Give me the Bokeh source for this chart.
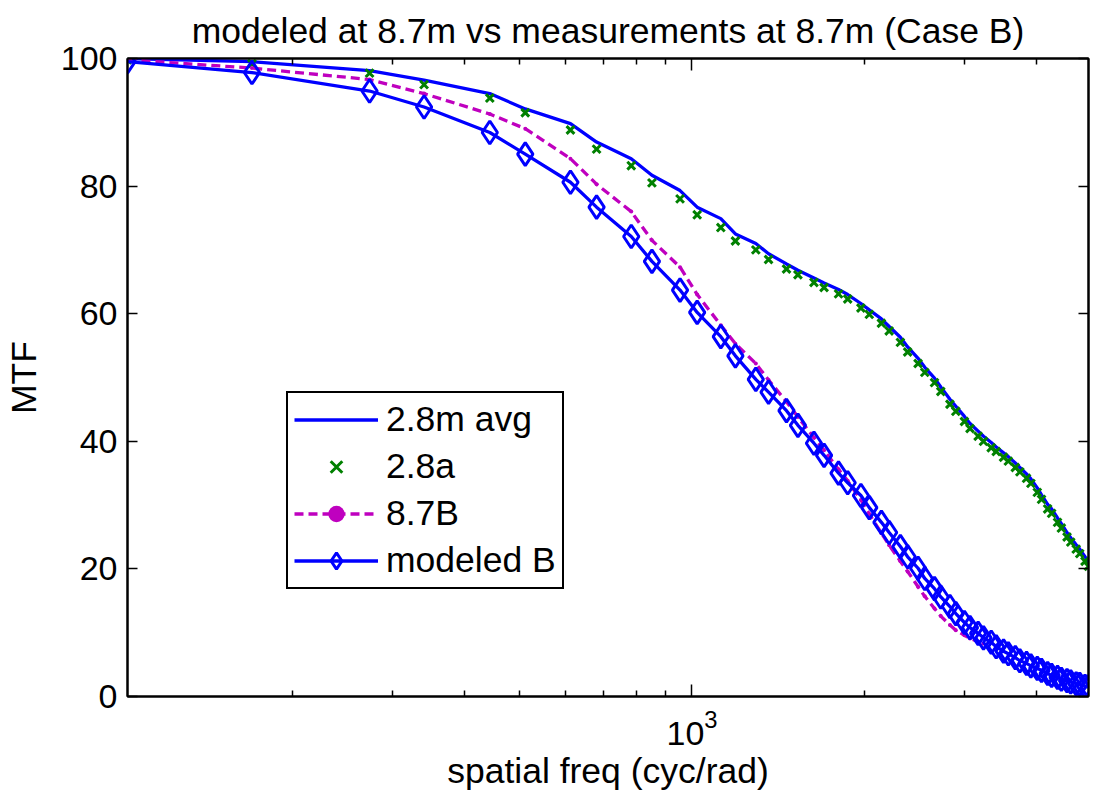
from bokeh.plotting import figure
from bokeh.models import (Range1d, LogAxis, LinearAxis, FixedTicker, LogTickFormatter,
                          CustomJSTickFormatter, Legend, LegendItem)
from bokeh.embed import file_html
from bokeh.resources import INLINE

# ---------------- data ----------------
freq = [103, 170, 273, 340, 443, 511, 613, 681, 783, 851, 953, 1021, 1123, 1191, 1293,
        1361, 1463, 1532, 1634, 1702, 1804, 1872, 1974, 2042, 2144, 2212, 2314, 2383,
        2485, 2553, 2655, 2723, 2825, 2893, 2995, 3063, 3165, 3234, 3336, 3404, 3506,
        3574, 3676, 3744, 3846, 3914, 4016, 4085, 4187, 4255, 4357, 4425, 4527, 4595,
        4697, 4765, 4867, 4936]

avg_28m = [100.0, 99.5, 98.1, 96.6, 94.5, 92.1, 89.8, 86.9, 84.3, 81.7, 79.3, 76.7, 74.9,
           72.5, 71.0, 69.4, 67.8, 66.8, 65.6, 64.8, 63.8, 63.0, 61.6, 60.6, 59.2, 58.0,
           56.3, 54.8, 53.0, 51.6, 49.9, 48.5, 46.6, 45.5, 43.9, 42.8, 41.6, 40.8, 39.8,
           39.1, 38.2, 37.6, 36.6, 35.9, 34.9, 34.1, 32.7, 31.6, 30.1, 29.4, 28.0, 27.1,
           25.7, 24.9, 23.8, 23.1, 21.9, 21.1]

meas_28a = [99.8, 99.2, 97.7, 95.9, 93.8, 91.5, 88.8, 85.8, 83.2, 80.5, 78.0, 75.5, 73.5,
            71.4, 70.0, 68.5, 67.0, 66.1, 64.9, 64.1, 63.1, 62.3, 60.9, 59.9, 58.5, 57.3,
            55.5, 54.0, 52.2, 50.8, 49.2, 47.8, 45.8, 44.7, 43.1, 42.0, 40.8, 40.0, 39.0,
            38.4, 37.5, 36.9, 35.9, 35.2, 34.2, 33.4, 32.0, 30.9, 29.4, 28.7, 27.3, 26.4,
            25.0, 24.2, 23.1, 22.4, 21.2, 20.4]

freq_87 = [103, 170, 273, 340, 443, 511, 613, 681, 783, 851, 953, 1021, 1123, 1191, 1293,
           1361, 1463, 1532, 1634, 1702, 1804, 1872, 1974, 2042, 2144, 2212, 2314, 2383,
           2485, 2553, 2655, 2723, 2825, 2893, 2995, 3063, 3165, 3234]
meas_87b = [99.8, 98.5, 96.7, 94.5, 91.3, 89.0, 84.3, 80.3, 76.0, 71.5, 67.3, 63.0, 58.2,
            55.3, 52.2, 49.6, 46.2, 43.8, 40.6, 38.6, 35.6, 33.8, 30.8, 28.6, 25.6, 23.7,
            21.2, 19.6, 17.2, 15.7, 13.8, 12.6, 11.2, 10.4, 9.6, 9.1, 8.6, 8.3]

model_b = [99.5, 97.8, 94.9, 92.4, 88.4, 85.0, 80.6, 76.7, 72.1, 68.2, 63.7, 60.2, 56.4,
           53.4, 49.7, 47.7, 44.8, 42.5, 39.7, 37.8, 35.0, 33.5, 31.5, 29.6, 27.3, 25.7,
           23.5, 21.9, 20.1, 18.5, 16.9, 15.6, 14.1, 13.0, 11.6, 10.8, 9.9, 9.2, 8.5,
           7.8, 7.1, 6.7, 6.1, 5.6, 5.2, 4.8, 4.4, 4.1, 3.6, 3.3, 3.0, 2.7, 2.5, 2.3,
           2.0, 1.9, 1.6, 1.5]

x_major = [1000]
x_minor = [200, 300, 400, 500, 600, 700, 800, 900, 2000, 3000, 4000]
y_ticks = [0, 20, 40, 60, 80, 100]

title_text = "modeled at 8.7m vs measurements at 8.7m (Case B)"
x_label = "spatial freq (cyc/rad)"
y_label = "MTF"
labels = ["2.8m avg", "2.8a", "8.7B", "modeled B"]

# ---------------- styling ----------------
FONT = "Liberation Sans"
FS_TICK = "34px"
FS_TEXT = "35.5px"
BLUE = "#0000FF"
GREEN = "#008000"
MAGENTA = "#BF00BF"
LW = 3.3

p = figure(x_axis_type="log", frame_width=961, frame_height=638,
           x_range=Range1d(freq[0], freq[-1]), y_range=Range1d(0, 100),
           output_backend="svg", toolbar_location=None,
           min_border_left=119, min_border_right=2, min_border_top=0, min_border_bottom=0,
           title=title_text)

p.background_fill_color = "white"
p.border_fill_color = "white"
p.outline_line_color = "black"
p.outline_line_width = 2
p.xgrid.visible = False
p.ygrid.visible = False

p.title.text_font = FONT
p.title.text_font_size = FS_TEXT
p.title.text_font_style = "normal"
p.title.text_color = "black"
p.title.align = "center"
p.title.standoff = 16

xticker = FixedTicker(ticks=x_major, minor_ticks=x_minor)
yticker = FixedTicker(ticks=y_ticks)


def style_axis(ax, minor_len):
    ax.axis_line_width = 2
    ax.axis_line_color = "black"
    ax.major_tick_in = 12
    ax.major_tick_out = 0
    ax.minor_tick_in = minor_len
    ax.minor_tick_out = 0
    ax.major_tick_line_width = 1.5
    ax.minor_tick_line_width = 1.5
    ax.major_tick_line_color = "black"
    ax.minor_tick_line_color = "black"
    ax.major_label_text_font = FONT
    ax.major_label_text_font_size = FS_TICK
    ax.major_label_text_color = "black"
    ax.axis_label_text_font = FONT
    ax.axis_label_text_font_size = FS_TEXT
    ax.axis_label_text_font_style = "normal"
    ax.axis_label_text_color = "black"


xa = p.xaxis[0]
xa.ticker = xticker
xa.formatter = LogTickFormatter(min_exponent=0)
style_axis(xa, 6)
xa.axis_label = x_label
xa.major_label_standoff = 13
xa.axis_label_standoff = 3

ya = p.yaxis[0]
ya.ticker = yticker
style_axis(ya, 0)
ya.major_tick_in = 10
ya.axis_label = y_label
ya.major_label_standoff = 10
ya.axis_label_standoff = 14

blank = CustomJSTickFormatter(code="return ''")

top = LogAxis(ticker=xticker, formatter=blank)
style_axis(top, 6)
top.major_label_text_font_size = "1px"
top.major_label_standoff = 0
p.add_layout(top, "above")

right = LinearAxis(ticker=yticker, formatter=blank)
style_axis(right, 0)
right.major_tick_in = 10
right.major_label_text_font_size = "1px"
right.major_label_standoff = 0
p.add_layout(right, "right")

# ---------------- glyphs ----------------
r_avg = p.line(freq, avg_28m, line_color=BLUE, line_width=LW)
r_a = p.scatter(freq, meas_28a, marker="x", size=11, line_color=GREEN, line_width=3)
r_87 = p.line(freq_87, meas_87b, line_color=MAGENTA, line_width=LW, line_dash="9 5")
r_87d = p.scatter(freq_87, meas_87b, marker="circle", size=4, line_width=0,
                  line_color=MAGENTA, fill_color=MAGENTA)
r_mod = p.line(freq, model_b, line_color=BLUE, line_width=LW)
r_modd = p.scatter(freq, model_b, marker="diamond", size=23, line_color=BLUE,
                   line_width=3, fill_color=None)

legend = Legend(items=[
    LegendItem(label=labels[0], renderers=[r_avg]),
    LegendItem(label=labels[1], renderers=[r_a]),
    LegendItem(label=labels[2], renderers=[r_87, r_87d]),
    LegendItem(label=labels[3], renderers=[r_mod, r_modd]),
], location=(159, 107))
legend.label_text_font = FONT
legend.label_text_font_size = FS_TEXT
legend.label_text_color = "black"
legend.border_line_color = "black"
legend.border_line_alpha = 1
legend.border_line_width = 2
legend.background_fill_color = "white"
legend.background_fill_alpha = 1
legend.padding = 6
legend.spacing = 6
legend.margin = 0
legend.glyph_width = 84
legend.glyph_height = 41
legend.label_height = 41
legend.label_standoff = 8
p.add_layout(legend)

open("out.html", "w").write(file_html(p, INLINE))
